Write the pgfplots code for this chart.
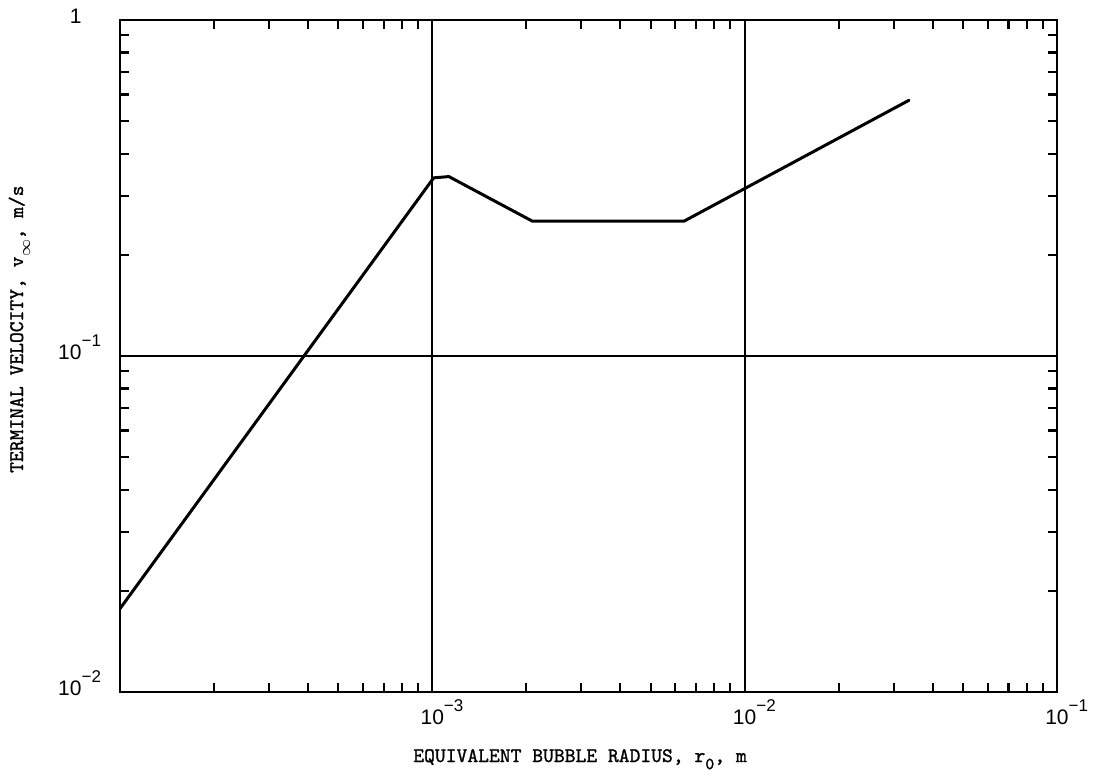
\documentclass[border=0pt]{standalone}
\usepackage{fontspec}
\setmainfont{Liberation Sans}
\newfontfamily\labelfont{Latin Modern Mono}[FakeBold=1.2]
\usepackage{pgfplots}
\pgfplotsset{compat=1.18}

% power-of-ten label: the "10" carries the anchor, the exponent hangs to the right
\newcommand{\dec}[1]{10\rlap{\raisebox{0.62em}{\fontsize{8.5pt}{8.5pt}\selectfont −#1}}}
% subscript set nearly full size, as on a typewriter
\newcommand{\sub}[1]{\raisebox{-0.35em}{\fontsize{8.5pt}{8.5pt}\selectfont #1}}

\begin{document}
\begin{tikzpicture}
\useasboundingbox (-60pt,-43.5pt) rectangle (490pt,346pt);
\begin{axis}[
  at={(0,0)}, anchor=south west,
  scale only axis, width=468.5pt, height=336pt,
  xmode=log, ymode=log,
  xmin=1e-4, xmax=1e-1, ymin=1e-2, ymax=1,
  xtick={1e-4,1e-3,1e-2,1e-1},
  xticklabels={,\dec{3},\dec{2},\dec{1}},
  ytick={1e-2,1e-1,1},
  yticklabels={\dec{2},\dec{1},1},
  minor xtick={2e-4,3e-4,4e-4,5e-4,6e-4,7e-4,8e-4,9e-4,
               2e-3,3e-3,4e-3,5e-3,6e-3,7e-3,8e-3,9e-3,
               2e-2,3e-2,4e-2,5e-2,6e-2,7e-2,8e-2,9e-2},
  minor ytick={0.02,0.03,0.04,0.05,0.06,0.07,0.08,0.09,
               0.2,0.3,0.4,0.5,0.6,0.7,0.8,0.9},
  tick align=inside,
  major tick length=0pt,
  minor tick length=4.5pt,
  every tick/.style={black, line width=1.1pt},
  grid=major,
  major grid style={black, line width=1pt},
  axis line style={black, line width=1.4pt},
  xticklabel style={anchor=base, inner sep=0pt, yshift=-16.5pt,
                    font=\fontsize{10.5pt}{10.5pt}\selectfont},
  yticklabel style={anchor=base east, inner sep=0pt, xshift=-19pt, yshift=-2pt,
                    font=\fontsize{10.5pt}{10.5pt}\selectfont},
  xlabel={EQUIVALENT BUBBLE RADIUS, r\sub{0}, m},
  xlabel style={at={(axis description cs:0.491,-0.1042)}, anchor=base,
                font=\labelfont\fontsize{10.3pt}{10.3pt}\selectfont},
  ylabel={TERMINAL VELOCITY, v\sub{$\infty$}, m/s},
  ylabel style={at={(axis description cs:-0.1035,0.54)}, anchor=base,
                font=\labelfont\fontsize{10.3pt}{10.3pt}\selectfont},
]
% terminal rise velocity of an air bubble against its equivalent radius
\addplot[black, line width=1.5pt, line join=round, line cap=round] coordinates {
  (1e-4,   0.0177)
  (1.01e-3,0.339)
  (1.13e-3,0.342)
  (2.09e-3,0.252)
  (6.4e-3, 0.252)
  (3.36e-2,0.577)
};
\end{axis}
\end{tikzpicture}
\end{document}
